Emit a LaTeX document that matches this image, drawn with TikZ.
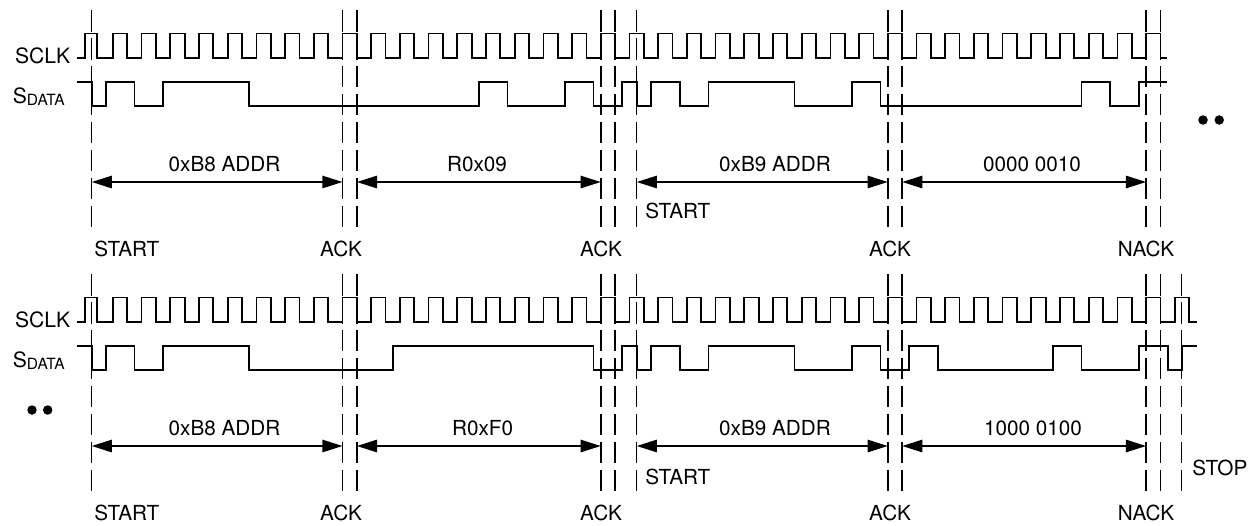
\documentclass[tikz,border=0pt]{standalone}
\usepackage{fontspec}
\setmainfont{TeX Gyre Heros}
\usepackage{tikz}
\usetikzlibrary{positioning}
\usetikzlibrary{arrows.meta}

\newcommand{\sdatalabel}{S\raisebox{-1pt}{\fontsize{8.8}{10}\selectfont DATA}}

\tikzset{
	wave/.style={line width=1pt, line join=miter},
	guide/.style={line width=0.85pt, dash pattern=on 12.3pt off 3.6pt},
	span/.style={line width=1.1pt, {Triangle[length=11.5pt,width=7pt]}-{Triangle[length=11.5pt,width=7pt]}},
	lbl/.style={inner sep=0pt, font=\fontsize{11.8}{14}\selectfont},
	sig/.style={inner sep=0pt, anchor=base east, font=\fontsize{12}{14}\selectfont},
	dot/.style={circle, fill, inner sep=0pt, minimum size=0.19cm}
}

\begin{document}
\begin{tikzpicture}[x=0.02cm, y=-0.02cm]
	\useasboundingbox (0,0) rectangle (1256,525);
	% upper transfer: write R0x09, then read
	\node[sig] (clkT) at (70.5,63.3) {SCLK};
	\node[sig] (sdaT) at (65,103.3) {\sdatalabel};
	\draw[wave] (76.7,58) -- (85,58) -- (85,33.5) -- (97,33.5) -- (97,58)
		\foreach \n in {0,...,36} { -- ({112.9+28.7*\n},58) -- ++(0,-24.5) -- ++(14.35,0) -- ++(0,24.5) } -- (1167,58);
	\draw[wave] (76.7,82) -| (91.7,106) -| (105.7,82) -| (134.4,106) -| (163.1,82) -| (249.2,106)
		-| (478.8,82) -| (507.5,106) -| (564.9,82) -| (593.6,106) -| (622.3,82) -| (636.7,106)
		-| (651,82) -| (679.7,106) -| (708.4,82) -| (794.5,106) -| (851.9,82) -| (880.6,106)
		-| (1081.5,82) -| (1110.2,106) -| (1138.9,82) -- (1167,82);
	\foreach \x/\name in {91.7/st, 342.5/ka, 356.85/kb, 600.8/kc, 615.15/kd, 636.7/rs, 887.8/ke, 902.15/kf, 1146.1/na, 1160.45/nb} {
		\draw[guide] (\x,10) -- (\x,228);
		\coordinate (T\name) at (\x,182);
	}
	\draw[span] (Tst) -- (Tka);
	\draw[span] (Tkb) -- (Tkc);
	\draw[span] (Trs) -- (Tke);
	\draw[span] (Tkf) -- (Tna);
	\node[lbl, anchor=base] (byteT1) at (224.5,171.5) {0xB8 ADDR};
	\node[lbl, anchor=base] (byteT2) at (477,171.5) {R0x09};
	\node[lbl, anchor=base] (byteT3) at (775,171.5) {0xB9 ADDR};
	\node[lbl, anchor=base] (byteT4) at (1032,171.5) {0000 0010};
	\node[lbl, anchor=base west] (restartT) at (645,218.5) {START};
	\node[lbl, anchor=base west] (startT) at (94,256.5) {START};
	\node[lbl, anchor=base] (ackT1) at (341,256.5) {ACK};
	\node[lbl, anchor=base] (ackT2) at (601,256.5) {ACK};
	\node[lbl, anchor=base] (ackT3) at (890,256.5) {ACK};
	\node[lbl, anchor=base] (nackT) at (1146,256.5) {NACK};
	\node[dot] (moreT1) at (1203,120) {};
	\node[dot, right=0.12cm of moreT1] (moreT2) {};

	% lower transfer: write R0xF0, then read, then stop
	\begin{scope}[shift={(0,264)}]
	\node[sig] (clkB) at (70.5,63.3) {SCLK};
	\node[sig] (sdaB) at (65,103.3) {\sdatalabel};
	\draw[wave] (76.7,58) -- (85,58) -- (85,33.5) -- (97,33.5) -- (97,58)
		\foreach \n in {0,...,37} { -- ({112.9+28.7*\n},58) -- ++(0,-24.5) -- ++(14.35,0) -- ++(0,24.5) } -- (1197,58);
	\draw[wave] (76.7,82) -| (91.7,106) -| (105.7,82) -| (134.4,106) -| (163.1,82) -| (249.2,106)
		-| (392.7,82) -| (593.6,106) -| (622.3,82) -| (636.7,106)
		-| (651,82) -| (679.7,106) -| (708.4,82) -| (794.5,106) -| (851.9,82) -| (880.6,106)
		-| (909.3,82) -| (938,106) -| (1052.8,82) -| (1081.5,106)
		-| (1138.9,82) -| (1167.6,106) -| (1181.7,82) -- (1197,82);
	\foreach \x/\name in {91.7/st, 342.5/ka, 356.85/kb, 600.8/kc, 615.15/kd, 636.7/rs, 887.8/ke, 902.15/kf, 1146.1/na, 1160.45/nb, 1181.7/sp} {
		\draw[guide] (\x,10) -- (\x,228);
		\coordinate (B\name) at (\x,182);
	}
	\draw[span] (Bst) -- (Bka);
	\draw[span] (Bkb) -- (Bkc);
	\draw[span] (Brs) -- (Bke);
	\draw[span] (Bkf) -- (Bna);
	\node[lbl, anchor=base] (byteB1) at (224.5,171.5) {0xB8 ADDR};
	\node[lbl, anchor=base] (byteB2) at (482.6,171.5) {R0xF0};
	\node[lbl, anchor=base] (byteB3) at (775,171.5) {0xB9 ADDR};
	\node[lbl, anchor=base] (byteB4) at (1033,171.5) {1000 0100};
	\node[lbl, anchor=base west] (restartB) at (645,220) {START};
	\node[lbl, anchor=base west] (stopB) at (1192,211.5) {STOP};
	\node[lbl, anchor=base west] (startB) at (94,256.5) {START};
	\node[lbl, anchor=base] (ackB1) at (341,256.5) {ACK};
	\node[lbl, anchor=base] (ackB2) at (601,256.5) {ACK};
	\node[lbl, anchor=base] (ackB3) at (890,256.5) {ACK};
	\node[lbl, anchor=base] (nackB) at (1146,256.5) {NACK};
	\node[dot] (moreB1) at (32,146) {};
	\node[dot, right=0.11cm of moreB1] (moreB2) {};
	\end{scope}
\end{tikzpicture}
\end{document}
